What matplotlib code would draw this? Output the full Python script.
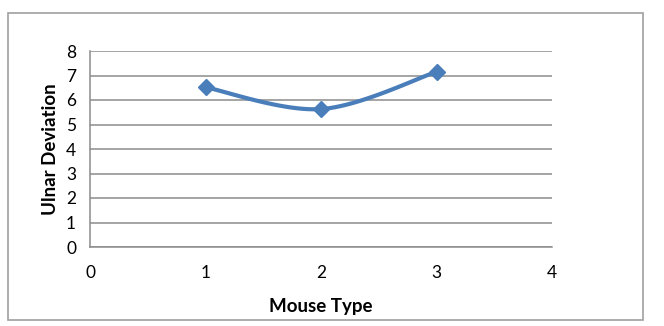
import numpy as np
import matplotlib.pyplot as plt
from matplotlib.patches import Rectangle

# data
mouse_type = [1, 2, 3]
ulnar_dev = [6.52, 5.63, 7.15]
x_ticks = [0, 1, 2, 3, 4]
y_ticks = [0, 1, 2, 3, 4, 5, 6, 7, 8]

LINE_COLOR = "#4A7EBB"
GRID_COLOR = "#8C8C8C"

plt.rcParams["font.family"] = ["Lato", "DejaVu Sans"]


def smooth_curve(xs, ys, n=60):
    # Excel-like smoothing: cubic Bezier with Catmull-Rom control points
    xs = np.asarray(xs, float)
    ys = np.asarray(ys, float)
    pts = np.column_stack([xs, ys])
    out = []
    for i in range(len(pts) - 1):
        p0 = pts[i - 1] if i > 0 else pts[i]
        p1 = pts[i]
        p2 = pts[i + 1]
        p3 = pts[i + 2] if i + 2 < len(pts) else pts[i + 1]
        c1 = p1 + (p2 - p0) / 6.0
        c2 = p2 - (p3 - p1) / 6.0
        t = np.linspace(0, 1, n)[:, None]
        seg = ((1 - t) ** 3) * p1 + 3 * ((1 - t) ** 2) * t * c1 \
            + 3 * (1 - t) * t ** 2 * c2 + t ** 3 * p2
        out.append(seg if i == 0 else seg[1:])
    seg = np.vstack(out)
    return seg[:, 0], seg[:, 1]


fig = plt.figure(figsize=(6.64, 3.26), dpi=100)
ax = fig.add_axes([90 / 664, 1 - 247 / 326, 462 / 664, 196 / 326])

# outer chart frame
fig.patches.append(Rectangle((8 / 664, 1 - 320 / 326), 635 / 664, 307 / 326,
                             transform=fig.transFigure, fill=False,
                             edgecolor="#A0A0A0", linewidth=1.2))

sx, sy = smooth_curve(mouse_type, ulnar_dev)
ax.plot(sx, sy, color=LINE_COLOR, linewidth=3.0, solid_capstyle="round", zorder=3)
ax.plot(mouse_type, ulnar_dev, linestyle="none", marker="D", markersize=8.5,
        color=LINE_COLOR, zorder=4)

ax.set_xlim(0, 4)
ax.set_ylim(0, 8)
ax.set_xticks(x_ticks)
ax.set_yticks(y_ticks)
ax.grid(axis="y", color=GRID_COLOR, linewidth=1.1)
ax.set_axisbelow(True)

for s in ["top", "right"]:
    ax.spines[s].set_visible(False)
for s in ["left", "bottom"]:
    ax.spines[s].set_color(GRID_COLOR)
    ax.spines[s].set_linewidth(1.1)

ax.tick_params(axis="both", length=0, labelsize=12.5, colors="black")
ax.tick_params(axis="x", pad=13)
ax.tick_params(axis="y", pad=10)

ax.set_xlabel("Mouse Type", fontsize=13.5, fontweight="bold", labelpad=12)
ax.set_ylabel("Ulnar Deviation", fontsize=13.5, fontweight="bold", labelpad=5)

fig.savefig("out.png", dpi=100)
